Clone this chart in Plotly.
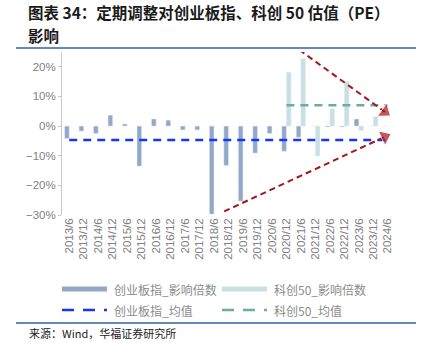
import plotly.graph_objects as go

categories = ["2013/6", "2013/12", "2014/6", "2014/12", "2015/6", "2015/12", "2016/6", "2016/12",
              "2017/6", "2017/12", "2018/6", "2018/12", "2019/6", "2019/12", "2020/6", "2020/12",
              "2021/6", "2021/12", "2022/6", "2022/12", "2023/6", "2023/12", "2024/6"]
cyb_impact = [-4.2, -1.7, -2.5, 3.7, 0.7, -13.5, 2.4, 2.0, -1.3, -1.3, -29.7, -13.3, -25.3,
              -9.1, -2.5, -8.5, -3.8, 0.0, -0.3, -0.3, 2.4, 0.0, 0.0]
kc50_impact = [None] * 15 + [18.2, 22.7, -10.1, 5.8, 15.2, -1.5, 3.2, None]
cyb_mean = [-4.7] * 23
kc50_mean = [None] * 15 + [7.0] * 8
yticks = [20, 10, 0, -10, -20, -30]

names = ["创业板指_影响倍数", "科创50_影响倍数", "创业板指_均值", "科创50_均值"]
c_dark, c_light, c_blue, c_teal, c_red = "#93a8c9", "#c8e0e4", "#1436f5", "#6eaaa8", "#a3171c"

x = list(range(len(categories)))
fig = go.Figure()
fig.add_trace(go.Bar(x=x, y=[v / 100 for v in cyb_impact], name=names[0], marker_color=c_dark))
fig.add_trace(go.Bar(x=x, y=[None if v is None else v / 100 for v in kc50_impact], name=names[1],
                     marker_color=c_light))
fig.add_trace(go.Scatter(x=x, y=[v / 100 for v in cyb_mean], mode="lines", name=names[2],
                         line=dict(color=c_blue, width=2.5, dash="8px,6px")))
fig.add_trace(go.Scatter(x=x, y=[None if v is None else v / 100 for v in kc50_mean], mode="lines",
                         name=names[3], line=dict(color=c_teal, width=2.5, dash="8px,6px")))

# trend arrows (annotation decorations)
for (x0, y0, x1, y1) in [(15.9, 0.257, 21.8, 0.048), (10.7, -0.288, 21.8, -0.036)]:
    fig.add_trace(go.Scatter(x=[x0, x1], y=[y0, y1], mode="lines+markers", showlegend=False,
                             cliponaxis=False, hoverinfo="skip",
                             line=dict(color=c_red, width=2, dash="6px,4px"),
                             marker=dict(symbol="triangle-up", size=[0, 14], color=c_red,
                                         angleref="previous")))

tick_font = dict(family="Liberation Sans, Arial", size=11.5, color="#808080")
fig.update_layout(
    width=425, height=343, margin=dict(l=62, r=30, t=52, b=128),
    paper_bgcolor="white", plot_bgcolor="white",
    barmode="group", bargap=0.36, bargroupgap=0,
    showlegend=False,
    xaxis=dict(range=[-0.5, 22.5], tickmode="array", tickvals=x, ticktext=categories,
               tickangle=-90, tickfont=tick_font, showgrid=False, zeroline=False,
               showline=False, ticks=""),
    xaxis2=dict(range=[-0.5, 22.5], overlaying="x", anchor="free",
                position=30 / 55, showticklabels=False, showgrid=False, zeroline=False,
                showline=True, linecolor="#d0d0d0", linewidth=1, ticks="outside",
                ticklen=4, tickcolor="#d0d0d0", tickmode="array",
                tickvals=[i + 0.5 for i in x[:-1]] + [22.5]),
    yaxis=dict(range=[-0.30, 0.25], tickmode="array", tickvals=[v / 100 for v in yticks],
               ticktext=[("−" if v < 0 else "") + f"{abs(v)}%" for v in yticks],
               tickfont=tick_font, showgrid=False, zeroline=False, showline=True,
               linecolor="#c8c8c8", linewidth=1, ticks="outside", ticklen=3,
               tickcolor="#c8c8c8"),
)

# header / footer
title_font = dict(family="Noto Sans CJK SC", size=15.5, color="#1a1a1a")
for txt, ypx in [("<b>图表 34：定期调整对创业板指、科创 50 估值（PE）</b>", 12), ("<b>影响</b>", 35)]:
    fig.add_annotation(xref="paper", yref="paper", x=(26 - 62) / 333, y=(215 - ypx) / 163,
                       xanchor="left", yanchor="middle", text=txt, showarrow=False, font=title_font)
for ypx in [48, 323]:
    fig.add_shape(type="line", xref="paper", yref="paper",
                  x0=(16 - 62) / 333, x1=(416 - 62) / 333,
                  y0=(215 - ypx) / 163, y1=(215 - ypx) / 163,
                  line=dict(color="#2f5fa8", width=1.5))
fig.add_annotation(xref="paper", yref="paper", x=(27 - 62) / 333, y=(215 - 333) / 163,
                   xanchor="left", yanchor="middle", text="来源：Wind，华福证券研究所",
                   showarrow=False, font=dict(family="Noto Sans CJK SC", size=11, color="#222"))

# custom legend
leg = [(62, 289, c_dark, "solid", 5, names[0]), (222, 289, c_light, "solid", 5, names[1]),
       (62, 310, c_blue, "dash", 2.5, names[2]), (222, 310, c_teal, "dash", 2.5, names[3])]
for (lx, ly, col, dsh, w, txt) in leg:
    yp = (215 - ly) / 163
    fig.add_shape(type="line", xref="paper", yref="paper", x0=(lx - 62) / 333, x1=(lx + 45 - 62) / 333,
                  y0=yp, y1=yp, line=dict(color=col, width=w, dash="12px,9px" if dsh == "dash" else "solid"))
    fig.add_annotation(xref="paper", yref="paper", x=(lx + 50 - 62) / 333, y=yp, xanchor="left",
                       yanchor="middle", text=txt, showarrow=False,
                       font=dict(family="Noto Sans CJK SC", size=12, color="#8c8c8c"))

fig.write_html("out.html")
